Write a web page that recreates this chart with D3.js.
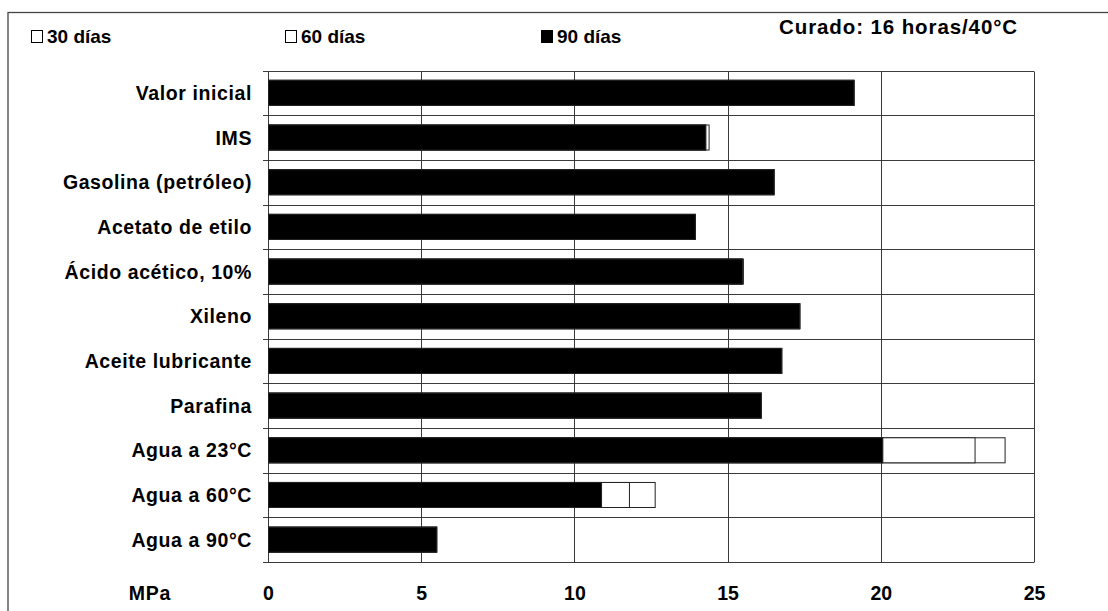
<!DOCTYPE html>
<html><head><meta charset="utf-8">
<script src="https://cdn.jsdelivr.net/npm/d3@7"></script>
<style>
html,body{margin:0;padding:0;background:#fff;}
text{font-family:"Liberation Sans",Arial,sans-serif;font-weight:bold;fill:#000;}
</style></head>
<body><svg id="c" width="1108" height="611"></svg>
<script>
const categories = ["Valor inicial","IMS","Gasolina (petróleo)","Acetato de etilo","Ácido acético, 10%","Xileno","Aceite lubricante","Parafina","Agua a 23°C","Agua a 60°C","Agua a 90°C"];
const seriesNames = ["30 días","60 días","90 días"];
const dias30 = [19.11,14.38,16.50,13.93,15.50,17.34,16.75,16.08,24.04,12.62,5.49];
const dias60 = [19.11,14.27,16.50,13.93,15.47,17.34,16.75,16.08,23.06,11.78,5.49];
const dias90 = [19.11,14.27,16.50,13.93,15.47,17.34,16.75,16.08,20.05,10.87,5.49];
const xTicks = [0,5,10,15,20,25];
const axisTitle = "MPa";
const note = "Curado: 16 horas/40°C";

const svg = d3.select("#c");
const L=268, R=1034, T=70.5, B=562;
const x = d3.scaleLinear().domain([0,25]).range([L,R]);
const y = d3.scaleBand().domain(categories).range([T,B]).padding(0);
const barH = y.bandwidth()*0.56;
const grid = "#3a3a3a";

// outer frame
svg.append("rect").attr("x",8).attr("y",12.5).attr("width",1120).attr("height",620)
  .attr("fill","none").attr("stroke","#444").attr("stroke-width",1.3);

// horizontal lines at category boundaries
const bounds = categories.map(c=>y(c)).concat([B]);
svg.append("g").selectAll("line").data(bounds).join("line")
  .attr("x1",L-5).attr("x2",R).attr("y1",d=>Math.round(d)+0.5).attr("y2",d=>Math.round(d)+0.5)
  .attr("stroke",grid).attr("stroke-width",1);
// vertical grid lines
svg.append("g").selectAll("line").data(xTicks).join("line")
  .attr("x1",d=>Math.round(x(d))+0.5).attr("x2",d=>Math.round(x(d))+0.5)
  .attr("y1",Math.round(T)+0.5).attr("y2",Math.round(B)+0.5)
  .attr("stroke",grid).attr("stroke-width",1);

// bars: 30 (back), 60, 90 (front)
const series = [
  {name:seriesNames[0], vals:dias30, fill:"#fff"},
  {name:seriesNames[1], vals:dias60, fill:"#fff"},
  {name:seriesNames[2], vals:dias90, fill:"#000"}
];
series.forEach(s=>{
  svg.append("g").selectAll("rect").data(categories).join("rect")
    .attr("x",x(0)+0.5)
    .attr("y",c=>y(c)+(y.bandwidth()-barH)/2)
    .attr("width",(c,i)=>x(s.vals[i])-x(0))
    .attr("height",barH)
    .attr("fill",s.fill).attr("stroke","#222").attr("stroke-width",1);
});

// category labels
svg.append("g").selectAll("text").data(categories).join("text")
  .attr("x",252).attr("y",c=>y(c)+y.bandwidth()/2).attr("dy","0.36em")
  .attr("text-anchor","end").attr("font-size",19.5).attr("letter-spacing",0.6)
  .text(d=>d);

// x axis labels
const ax = svg.append("g").attr("transform",`translate(0,${B})`)
  .call(d3.axisBottom(x).tickValues(xTicks).tickSize(0).tickPadding(24).tickFormat(d3.format("d")));
ax.select(".domain").remove();
ax.selectAll("text").attr("font-size",19.5).attr("font-family",null).attr("fill","#000");
svg.append("text").attr("x",150).attr("y",B+38).attr("text-anchor","middle")
  .attr("font-size",19.5).attr("letter-spacing",0.8).text(axisTitle);

// legend
const legX = [31,285,541];
series.forEach((s,i)=>{
  svg.append("rect").attr("x",legX[i]+0.5).attr("y",30.5).attr("width",11).attr("height",12)
    .attr("fill",s.fill).attr("stroke","#000").attr("stroke-width",1);
  svg.append("text").attr("x",legX[i]+16).attr("y",43).attr("font-size",19).text(s.name);
});
svg.append("text").attr("x",1018).attr("y",34).attr("text-anchor","end")
  .attr("font-size",20.5).attr("letter-spacing",0.9).text(note);
</script></body></html>
